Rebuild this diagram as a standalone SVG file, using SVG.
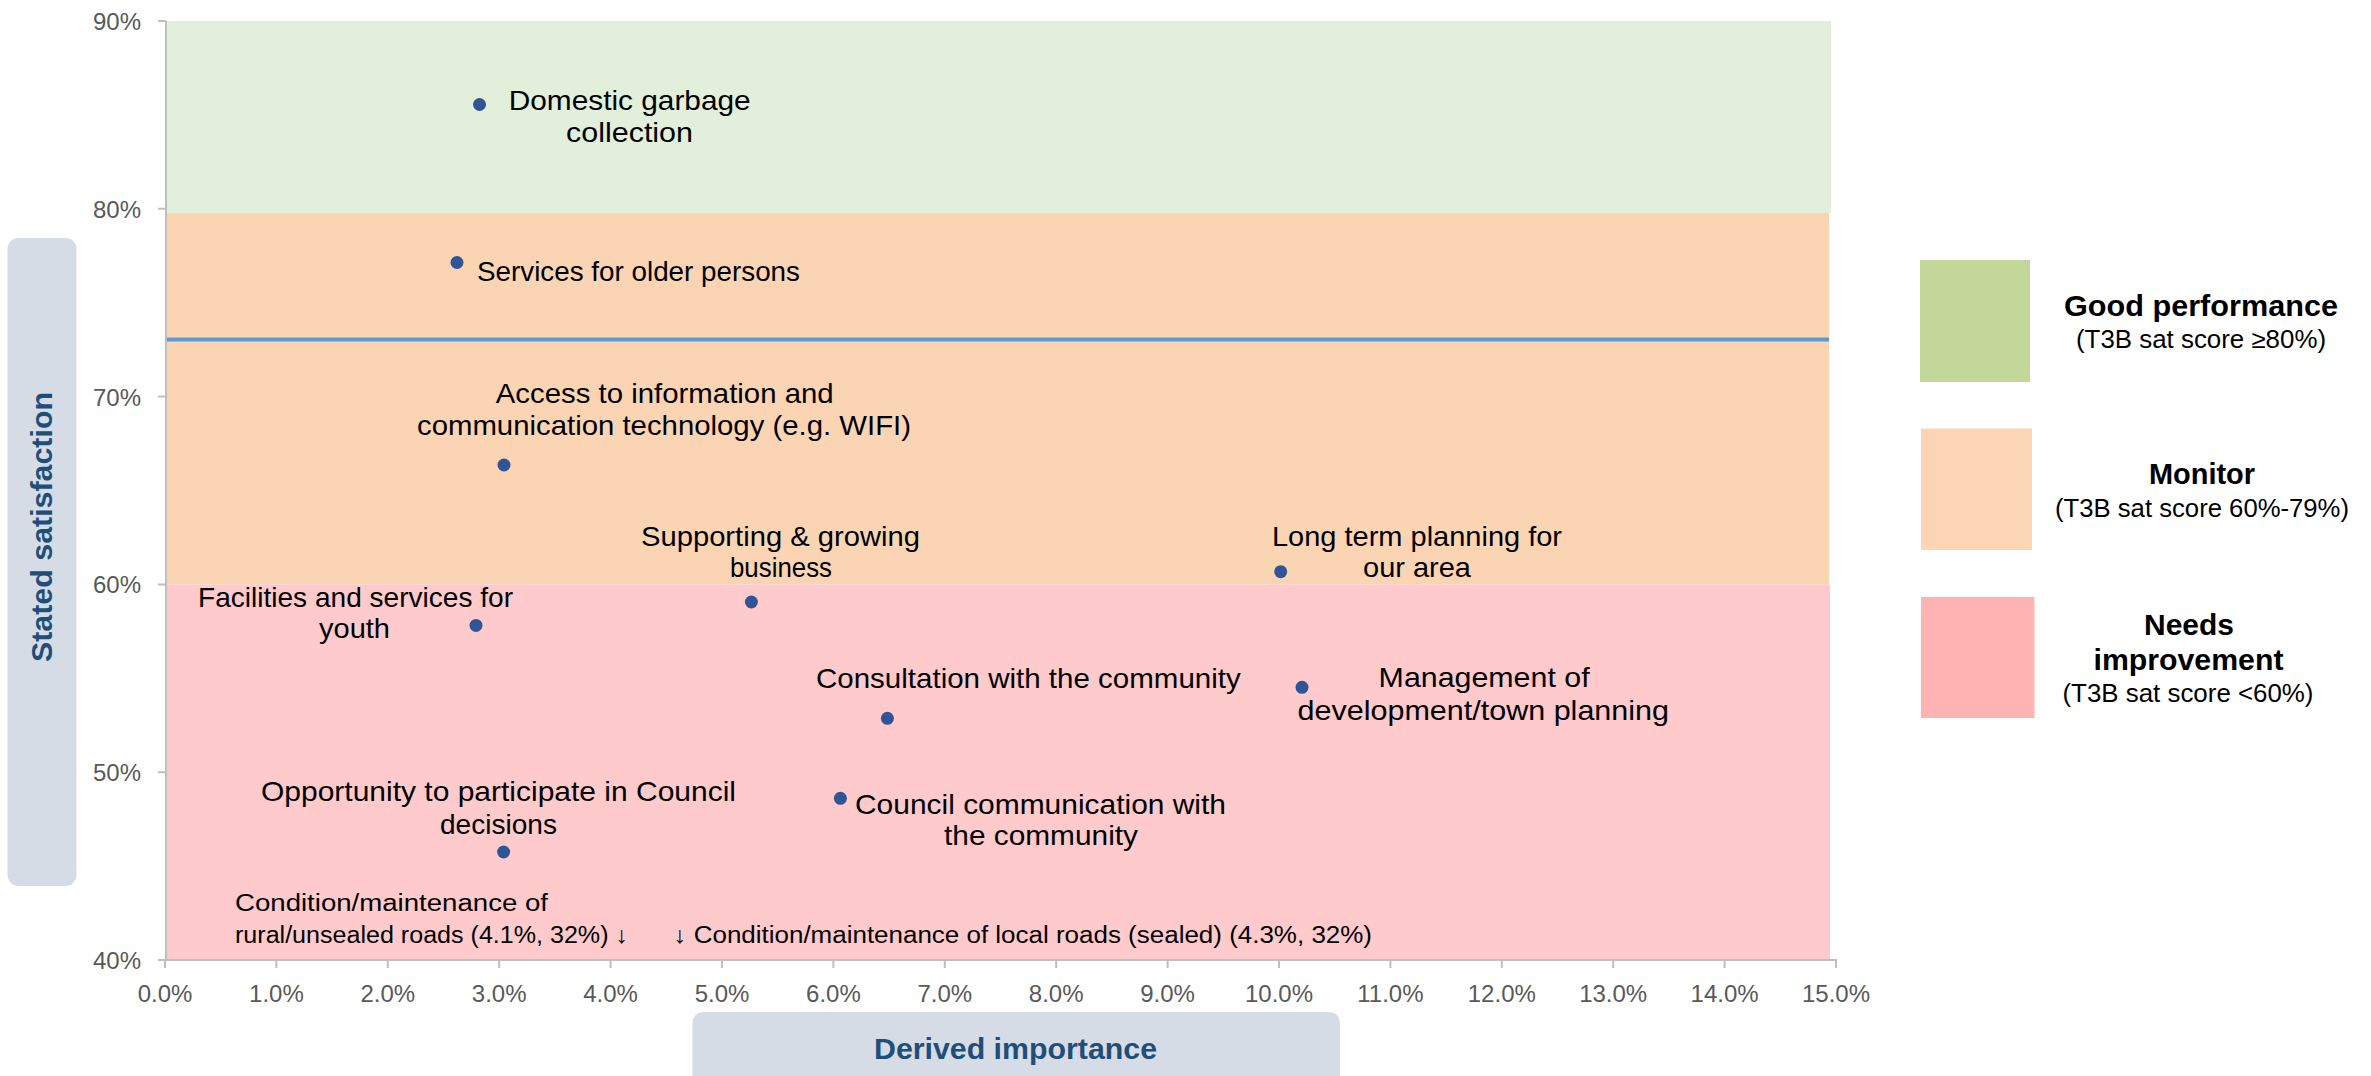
<svg xmlns="http://www.w3.org/2000/svg" width="2371" height="1076" viewBox="0 0 2371 1076">
<defs>
<style>
.lbl{font-family:"Liberation Sans",Arial,sans-serif;font-size:28px;fill:#000}
.sm{font-family:"Liberation Sans",Arial,sans-serif;font-size:23px;fill:#000}
.tick{font-family:"Liberation Sans",Arial,sans-serif;font-size:24px;fill:#595959}
.axt{font-family:"Liberation Sans",Arial,sans-serif;font-size:30px;font-weight:bold;fill:#1F4E79}
.lgb{font-family:"Liberation Sans",Arial,sans-serif;font-size:30px;font-weight:bold;fill:#000}
.lgs{font-family:"Liberation Sans",Arial,sans-serif;font-size:25px;fill:#000}
.dot{fill:#2F5597}
.ax{stroke:#BFBFBF;stroke-width:2;fill:none}
</style>
</defs>
<rect width="2371" height="1076" fill="#FFFFFF"/>
<g id="bands">
<rect x="167" y="21" width="1664" height="192" fill="#E2EFDA"/>
<rect x="167" y="213" width="1662" height="371.5" fill="#FBD4B4"/>
<rect x="167" y="584.5" width="1663" height="375.5" fill="#FFCACB"/>
<line x1="166" y1="339.5" x2="1829" y2="339.5" stroke="#5B9BD5" stroke-width="4"/>
</g>
<g id="axes">
<line class="ax" x1="166" y1="21" x2="166" y2="961"/>
<line class="ax" x1="165" y1="960" x2="1837" y2="960"/>
<path class="ax" d="M158 21H166M158 208.8H166M158 396.6H166M158 584.4H166M158 772.2H166M158 960H166"/>
<path class="ax" d="M165 960V968M276.4 960V968M387.8 960V968M499.2 960V968M610.6 960V968M722 960V968M833.4 960V968M944.8 960V968M1056.2 960V968M1167.6 960V968M1279 960V968M1390.4 960V968M1501.8 960V968M1613.2 960V968M1724.6 960V968M1836 960V968"/>
<g class="tick" text-anchor="end">
<text x="141" y="30">90%</text>
<text x="141" y="217.8">80%</text>
<text x="141" y="405.6">70%</text>
<text x="141" y="593.4">60%</text>
<text x="141" y="781.2">50%</text>
<text x="141" y="969">40%</text>
</g>
<g class="tick" text-anchor="middle">
<text x="165" y="1002">0.0%</text>
<text x="276.4" y="1002">1.0%</text>
<text x="387.8" y="1002">2.0%</text>
<text x="499.2" y="1002">3.0%</text>
<text x="610.6" y="1002">4.0%</text>
<text x="722" y="1002">5.0%</text>
<text x="833.4" y="1002">6.0%</text>
<text x="944.8" y="1002">7.0%</text>
<text x="1056.2" y="1002">8.0%</text>
<text x="1167.6" y="1002">9.0%</text>
<text x="1279" y="1002">10.0%</text>
<text x="1390.4" y="1002">11.0%</text>
<text x="1501.8" y="1002">12.0%</text>
<text x="1613.2" y="1002">13.0%</text>
<text x="1724.6" y="1002">14.0%</text>
<text x="1836" y="1002">15.0%</text>
</g>
</g>
<g id="y-title">
<rect x="7.5" y="238" width="69" height="648" rx="11" fill="#D6DCE5"/>
<text class="axt" transform="translate(51.5,527) rotate(-90)" text-anchor="middle" textLength="270" lengthAdjust="spacingAndGlyphs">Stated satisfaction</text>
</g>
<g id="x-title">
<path d="M692.5 1076V1024Q692.5 1012 704.5 1012H1328Q1340 1012 1340 1024V1076Z" fill="#D6DCE5"/>
<text class="axt" x="874" y="1059" textLength="283" lengthAdjust="spacingAndGlyphs">Derived importance</text>
</g>
<g id="connectors"></g>
<g id="node-domestic-garbage">
<circle class="dot" cx="479.5" cy="104.5" r="6.5"/>
<text class="lbl" x="508.7" y="109.5" textLength="242" lengthAdjust="spacingAndGlyphs">Domestic garbage</text>
<text class="lbl" x="566" y="141.5" textLength="127" lengthAdjust="spacingAndGlyphs">collection</text>
</g>
<g id="node-older-persons">
<circle class="dot" cx="457" cy="262.5" r="6.5"/>
<text class="lbl" x="477" y="280.7" textLength="323" lengthAdjust="spacingAndGlyphs">Services for older persons</text>
</g>
<g id="node-access-ict">
<circle class="dot" cx="504" cy="465" r="6.5"/>
<text class="lbl" x="495.7" y="403.3" textLength="338" lengthAdjust="spacingAndGlyphs">Access to information and</text>
<text class="lbl" x="417" y="435" textLength="494" lengthAdjust="spacingAndGlyphs">communication technology (e.g. WIFI)</text>
</g>
<g id="node-supporting-business">
<circle class="dot" cx="751.4" cy="602" r="6.5"/>
<text class="lbl" x="641" y="546" textLength="279" lengthAdjust="spacingAndGlyphs">Supporting &amp; growing</text>
<text class="lbl" x="730" y="577" textLength="102" lengthAdjust="spacingAndGlyphs">business</text>
</g>
<g id="node-long-term-planning">
<circle class="dot" cx="1280.7" cy="571.7" r="6.5"/>
<text class="lbl" x="1272" y="546" textLength="290" lengthAdjust="spacingAndGlyphs">Long term planning for</text>
<text class="lbl" x="1363" y="577" textLength="108" lengthAdjust="spacingAndGlyphs">our area</text>
</g>
<g id="node-youth">
<circle class="dot" cx="476" cy="625.4" r="6.5"/>
<text class="lbl" x="198" y="606.6" textLength="315" lengthAdjust="spacingAndGlyphs">Facilities and services for</text>
<text class="lbl" x="319" y="638" textLength="71" lengthAdjust="spacingAndGlyphs">youth</text>
</g>
<g id="node-consultation">
<circle class="dot" cx="887.4" cy="718.3" r="6.5"/>
<text class="lbl" x="816" y="688.3" textLength="424.7" lengthAdjust="spacingAndGlyphs">Consultation with the community</text>
</g>
<g id="node-management-development">
<circle class="dot" cx="1302" cy="687.3" r="6.5"/>
<text class="lbl" x="1378.6" y="686.7" textLength="211" lengthAdjust="spacingAndGlyphs">Management of</text>
<text class="lbl" x="1297.6" y="720" textLength="371.4" lengthAdjust="spacingAndGlyphs">development/town planning</text>
</g>
<g id="node-council-communication">
<circle class="dot" cx="840.4" cy="798.3" r="6.5"/>
<text class="lbl" x="855" y="814" textLength="371" lengthAdjust="spacingAndGlyphs">Council communication with</text>
<text class="lbl" x="944" y="845" textLength="194" lengthAdjust="spacingAndGlyphs">the community</text>
</g>
<g id="node-participate-decisions">
<circle class="dot" cx="503.6" cy="852" r="6.5"/>
<text class="lbl" x="261" y="800.7" textLength="475" lengthAdjust="spacingAndGlyphs">Opportunity to participate in Council</text>
<text class="lbl" x="440" y="833.8" textLength="117" lengthAdjust="spacingAndGlyphs">decisions</text>
</g>
<g id="node-rural-roads">
<text class="sm" x="235" y="910.7" textLength="313" lengthAdjust="spacingAndGlyphs">Condition/maintenance of</text>
<text class="sm" x="235" y="942.7" textLength="393" lengthAdjust="spacingAndGlyphs">rural/unsealed roads (4.1%, 32%) ↓</text>
</g>
<g id="node-local-roads">
<text class="sm" x="673.5" y="942.7" textLength="698.5" lengthAdjust="spacingAndGlyphs">↓ Condition/maintenance of local roads (sealed) (4.3%, 32%)</text>
</g>
<g id="legend-good">
<rect x="1920" y="260" width="110" height="122" fill="#C4D79B"/>
<text class="lgb" x="2201" y="315.5" text-anchor="middle" textLength="274" lengthAdjust="spacingAndGlyphs">Good performance</text>
<text class="lgs" x="2201" y="348" text-anchor="middle" textLength="250" lengthAdjust="spacingAndGlyphs">(T3B sat score ≥80%)</text>
</g>
<g id="legend-monitor">
<rect x="1921" y="428.5" width="111" height="121.5" fill="#FCD5B4"/>
<text class="lgb" x="2202" y="484" text-anchor="middle" textLength="106" lengthAdjust="spacingAndGlyphs">Monitor</text>
<text class="lgs" x="2202" y="516.5" text-anchor="middle" textLength="294" lengthAdjust="spacingAndGlyphs">(T3B sat score 60%-79%)</text>
</g>
<g id="legend-needs">
<rect x="1921" y="597" width="113.5" height="121" fill="#FFB3B3"/>
<text class="lgb" x="2189" y="635.3" text-anchor="middle" textLength="90" lengthAdjust="spacingAndGlyphs">Needs</text>
<text class="lgb" x="2188.5" y="670" text-anchor="middle" textLength="190" lengthAdjust="spacingAndGlyphs">improvement</text>
<text class="lgs" x="2188" y="701.7" text-anchor="middle" textLength="251" lengthAdjust="spacingAndGlyphs">(T3B sat score &lt;60%)</text>
</g>
</svg>
